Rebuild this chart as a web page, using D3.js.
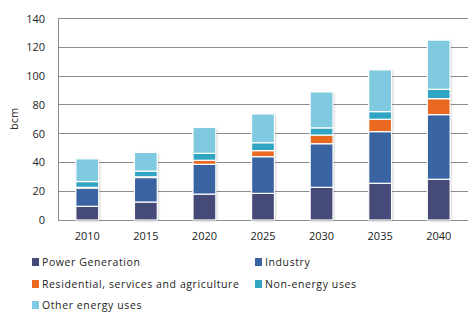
<!DOCTYPE html>
<html><head><meta charset="utf-8">
<script src="https://cdn.jsdelivr.net/npm/d3@7"></script>
<style>body{margin:0;background:#fff}svg{display:block}text{font-family:"Open Sans",sans-serif;fill:#222}</style>
</head><body><svg id="c" width="476" height="326"></svg>
<script>
const years = ["2010","2015","2020","2025","2030","2035","2040"];
const seriesNames = ["Power Generation","Industry","Residential, services and agriculture","Non-energy uses","Other energy uses"];
const powerGeneration = [9.5, 12.5, 18, 18.5, 22.7, 25.5, 28.3];
const industry = [12.7, 17, 20.7, 25.5, 30.3, 35.9, 44.9];
const residential = [0.5, 0.5, 2.8, 4.2, 6, 8.6, 11.1];
const nonEnergy = [4, 4, 4.8, 5.5, 5, 5.3, 6.5];
const otherEnergy = [15.8, 13, 18, 20, 25, 29, 34.2];
const yTicks = [0,20,40,60,80,100,120,140];
const colors = ["#464a78","#3a63a1","#e8691f","#2fa4c3","#7fcae1"];

const rows = years.map((y,i)=>({year:y,
  [seriesNames[0]]:powerGeneration[i],[seriesNames[1]]:industry[i],[seriesNames[2]]:residential[i],
  [seriesNames[3]]:nonEnergy[i],[seriesNames[4]]:otherEnergy[i]}));
const stack = d3.stack().keys(seriesNames)(rows);

const svg = d3.select("#c");
const m = {l:58, r:468, t:18.5, b:220};
const x = d3.scaleBand().domain(years).range([m.l,m.r]).paddingInner(0.61).paddingOuter(0.305);
const y = d3.scaleLinear().domain([0,140]).range([m.b,m.t]);

// gridlines
svg.append("g").selectAll("line").data(yTicks).join("line")
  .attr("x1",m.l).attr("x2",m.r).attr("y1",d=>y(d)).attr("y2",d=>y(d))
  .attr("stroke","#8c8c8c").attr("stroke-width",1).attr("shape-rendering","crispEdges");
svg.append("line").attr("x1",m.l).attr("x2",m.l).attr("y1",m.t).attr("y2",m.b)
  .attr("stroke","#8c8c8c").attr("shape-rendering","crispEdges");

const yAxis = d3.axisLeft(y).tickValues(yTicks).tickSize(0).tickPadding(13);
const gy = svg.append("g").attr("transform",`translate(${m.l},0)`).call(yAxis);
gy.select(".domain").remove();
gy.selectAll("text").style("font-size","11px").style("font-family","'Open Sans',sans-serif").attr("fill","#222");

const xAxis = d3.axisBottom(x).tickSize(0).tickPadding(12);
const gx = svg.append("g").attr("transform",`translate(0,${m.b})`).call(xAxis);
gx.select(".domain").remove();
gx.selectAll("text").style("font-size","11px").style("font-family","'Open Sans',sans-serif").attr("fill","#222");

// shadow filter
const defs = svg.append("defs");
const f = defs.append("filter").attr("id","sh").attr("x","-30%").attr("y","-10%").attr("width","160%").attr("height","120%");
f.append("feDropShadow").attr("dx",1).attr("dy",1).attr("stdDeviation",1.2).attr("flood-color","#000").attr("flood-opacity",0.25);

const bars = svg.append("g");
bars.selectAll("rect.shadow").data(years).join("rect")
  .attr("x",d=>x(d)).attr("width",x.bandwidth())
  .attr("y",(d,i)=>y(stack[stack.length-1][i][1])).attr("height",(d,i)=>y(0)-y(stack[stack.length-1][i][1]))
  .attr("fill","#fff").attr("filter","url(#sh)");
stack.forEach((s,k)=>{
  bars.append("g").selectAll("rect").data(s).join("rect")
    .attr("x",d=>x(d.data.year)).attr("width",x.bandwidth())
    .attr("y",d=>y(d[1])).attr("height",d=>Math.max(0,y(d[0])-y(d[1])))
    .attr("fill",colors[k]).attr("stroke","#fff").attr("stroke-width",1.2);
});

svg.append("text").attr("transform","translate(18,119) rotate(-90)").attr("text-anchor","middle")
  .style("font-size","11px").text("bcm");

// legend
const legPos = [[32,262],[255,262],[32,284],[255,284],[32,305]];
const lg = svg.append("g");
seriesNames.forEach((n,i)=>{
  const [lx,ly]=legPos[i];
  lg.append("rect").attr("x",lx).attr("y",ly-4).attr("width",7).attr("height",8).attr("fill",colors[i]);
  lg.append("text").attr("x",lx+10).attr("y",ly+4).style("font-size","10.5px").style("letter-spacing","0.6px").text(n);
});
</script></body></html>
